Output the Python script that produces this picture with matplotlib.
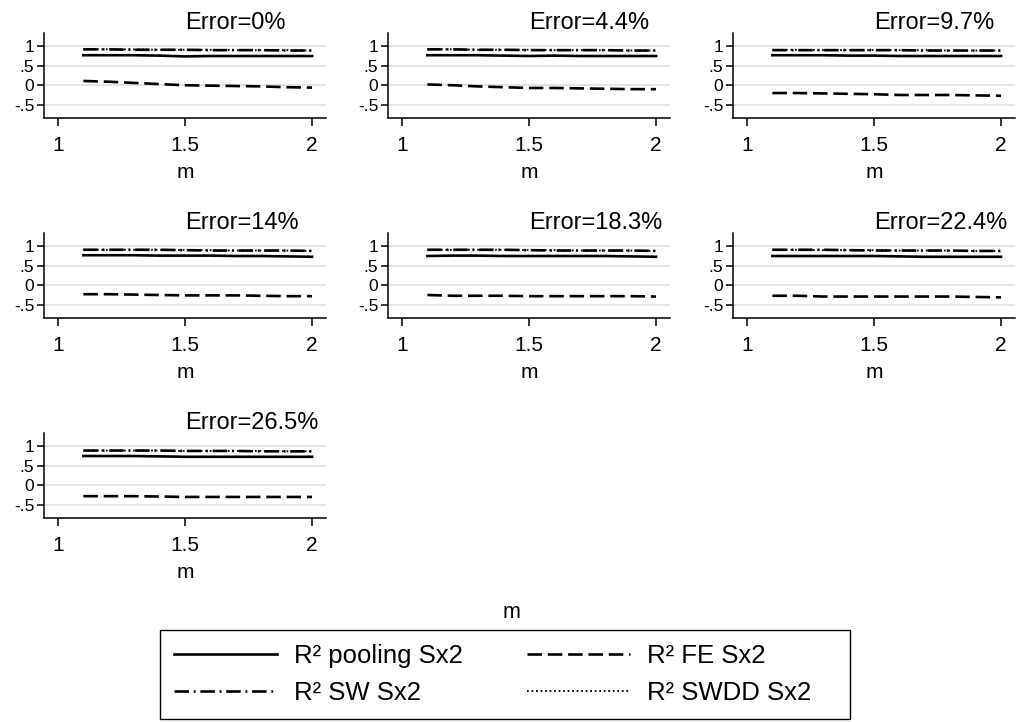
import matplotlib
matplotlib.use("Agg")
import matplotlib.pyplot as plt
from matplotlib.lines import Line2D
from matplotlib.patches import Rectangle

plt.rcParams["font.family"] = ["Liberation Sans", "DejaVu Sans"]

m_values = [1.1, 1.2, 1.3, 1.4, 1.5, 1.6, 1.7, 1.8, 1.9, 2.0]
error_labels = ["0%", "4.4%", "9.7%", "14%", "18.3%", "22.4%", "26.5%"]

# R2 values per error level
pooling = [
    [0.77, 0.77, 0.77, 0.76, 0.74, 0.75, 0.75, 0.75, 0.75, 0.75],
    [0.77, 0.77, 0.77, 0.76, 0.75, 0.76, 0.75, 0.75, 0.75, 0.75],
    [0.77, 0.77, 0.77, 0.76, 0.76, 0.75, 0.75, 0.75, 0.75, 0.75],
    [0.77, 0.77, 0.77, 0.76, 0.76, 0.76, 0.75, 0.75, 0.74, 0.73],
    [0.75, 0.76, 0.76, 0.75, 0.75, 0.75, 0.75, 0.75, 0.74, 0.73],
    [0.75, 0.75, 0.75, 0.75, 0.75, 0.74, 0.73, 0.73, 0.73, 0.73],
    [0.75, 0.75, 0.75, 0.74, 0.73, 0.73, 0.73, 0.73, 0.73, 0.73],
]
fe = [
    [0.11, 0.09, 0.06, 0.03, 0.00, -0.01, -0.02, -0.03, -0.05, -0.06],
    [0.02, 0.00, -0.03, -0.05, -0.07, -0.07, -0.08, -0.09, -0.10, -0.10],
    [-0.20, -0.20, -0.21, -0.22, -0.23, -0.25, -0.25, -0.25, -0.26, -0.27],
    [-0.23, -0.23, -0.24, -0.25, -0.26, -0.26, -0.26, -0.27, -0.28, -0.28],
    [-0.25, -0.27, -0.27, -0.27, -0.28, -0.28, -0.28, -0.28, -0.28, -0.29],
    [-0.27, -0.27, -0.29, -0.29, -0.29, -0.29, -0.29, -0.29, -0.30, -0.31],
    [-0.28, -0.28, -0.28, -0.29, -0.30, -0.30, -0.30, -0.30, -0.30, -0.30],
]
sw = [
    [0.92, 0.92, 0.91, 0.91, 0.91, 0.90, 0.90, 0.90, 0.89, 0.89],
    [0.92, 0.92, 0.91, 0.91, 0.90, 0.90, 0.90, 0.90, 0.89, 0.89],
    [0.90, 0.90, 0.90, 0.90, 0.90, 0.90, 0.89, 0.89, 0.89, 0.89],
    [0.91, 0.91, 0.91, 0.91, 0.90, 0.89, 0.89, 0.89, 0.89, 0.88],
    [0.91, 0.91, 0.91, 0.91, 0.90, 0.89, 0.89, 0.89, 0.89, 0.88],
    [0.91, 0.91, 0.91, 0.90, 0.89, 0.89, 0.89, 0.89, 0.88, 0.88],
    [0.89, 0.89, 0.89, 0.89, 0.88, 0.88, 0.88, 0.87, 0.87, 0.87],
]
swdd = [
    [0.93, 0.92, 0.92, 0.91, 0.91, 0.91, 0.90, 0.90, 0.90, 0.89],
    [0.93, 0.92, 0.91, 0.91, 0.91, 0.90, 0.90, 0.90, 0.89, 0.89],
    [0.91, 0.91, 0.90, 0.90, 0.90, 0.90, 0.90, 0.89, 0.89, 0.89],
    [0.91, 0.91, 0.91, 0.91, 0.90, 0.90, 0.89, 0.89, 0.89, 0.88],
    [0.91, 0.91, 0.91, 0.91, 0.90, 0.90, 0.89, 0.89, 0.89, 0.88],
    [0.91, 0.91, 0.90, 0.90, 0.90, 0.89, 0.89, 0.89, 0.88, 0.88],
    [0.89, 0.89, 0.89, 0.89, 0.88, 0.88, 0.88, 0.88, 0.87, 0.87],
]

W, H = 1022, 722
fig = plt.figure(figsize=(W / 100, H / 100), dpi=100)

styles = {
    "pool": dict(color="black", lw=1.9, linestyle="-"),
    "fe": dict(color="black", lw=1.9, dashes=(5.5, 2.2)),
    "sw": dict(color="black", lw=1.9, dashes=(5.5, 1.8, 0.7, 1.8)),
    "swdd": dict(color="black", lw=1.3, dashes=(1.0, 1.5)),
}

col_left = [44, 388, 733]
row_top = [33, 233, 433]
ax_w, ax_h = 282, 85

for i, lab in enumerate(error_labels):
    r, c = divmod(i, 3)
    x0, y0 = col_left[c], row_top[r]
    ax = fig.add_axes([x0 / W, 1 - (y0 + ax_h) / H, ax_w / W, ax_h / H])
    ax.plot(m_values, pooling[i], **styles["pool"])
    ax.plot(m_values, fe[i], **styles["fe"])
    ax.plot(m_values, sw[i], **styles["sw"])
    ax.plot(m_values, swdd[i], **styles["swdd"])
    ax.set_xlim(0.945, 2.055)
    ax.set_ylim(-0.84, 1.34)
    ax.set_xticks([1, 1.5, 2])
    ax.set_xticklabels(["1", "1.5", "2"], fontsize=15)
    ax.set_yticks([-0.5, 0, 0.5, 1])
    ax.set_yticklabels(["-.5", "0", ".5", "1"], fontsize=12.5)
    ax.grid(axis="y", color="#e2e2e2", lw=1.3)
    ax.set_axisbelow(True)
    for s in ["top", "right"]:
        ax.spines[s].set_visible(False)
    for s in ["left", "bottom"]:
        ax.spines[s].set_linewidth(1.1)
    ax.tick_params(axis="x", length=6, width=1.1, pad=7, direction="out")
    ax.tick_params(axis="y", length=5, width=1.1, pad=2, direction="out")
    ax.set_xlabel("m", fontsize=15, labelpad=6)
    ax.text(0.5, 1.047, "Error=" + lab, transform=ax.transAxes,
            ha="left", va="baseline", fontsize=17)

fig.text(511 / W, 1 - 612 / H, "m", ha="center", va="center", fontsize=15.5)

# legend frame (Stata-style box with extra room on the right)
fig.add_artist(Rectangle((160 / W, 1 - 719 / H), 690 / W, 89 / H,
                         transform=fig.transFigure, fill=False,
                         edgecolor="black", lw=1.0))

handles = [
    Line2D([], [], **styles["pool"]),
    Line2D([], [], **styles["sw"]),
    Line2D([], [], **styles["fe"]),
    Line2D([], [], **styles["swdd"]),
]
labels = ["R² pooling Sx2", "R² SW Sx2", "R² FE Sx2", "R² SWDD Sx2"]
leg = fig.legend(handles, labels, ncol=2, fontsize=18.5,
                 loc="upper left", bbox_to_anchor=(174 / W, 1 - 644 / H),
                 frameon=False, handlelength=4.0, handletextpad=0.66,
                 columnspacing=2.5, labelspacing=0.5, borderpad=0,
                 borderaxespad=0)

fig.savefig("out.png", dpi=100)
